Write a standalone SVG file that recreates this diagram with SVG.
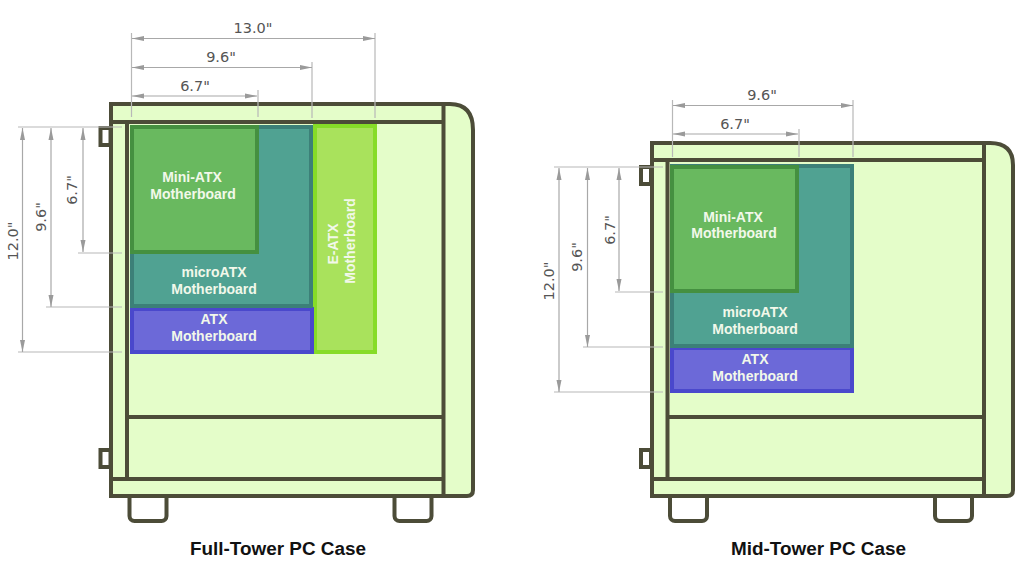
<svg xmlns="http://www.w3.org/2000/svg" width="1024" height="580" viewBox="0 0 1024 580">
<defs>
<style>
.case{fill:#e4fdc9;stroke:#4c4c38;stroke-width:4}
.ln{fill:none;stroke:#4c4c38;stroke-width:4}
.foot{fill:#fff;stroke:#4c4c38;stroke-width:4}
.ext{fill:none;stroke:#b8b8b8;stroke-width:1.200}
.dim{fill:none;stroke:#a8a8a8;stroke-width:1.200;marker-start:url(#ah);marker-end:url(#ah)}
.dt{font-family:"DejaVu Sans",sans-serif;font-size:14.500px;fill:#555;text-anchor:middle}
.bl{font-family:"Liberation Sans",sans-serif;font-size:14px;font-weight:bold;fill:#f2f8ea;text-anchor:middle}
.cap{font-family:"Liberation Sans",sans-serif;font-size:18.900px;font-weight:bold;fill:#111;text-anchor:middle}
.mini{fill:#69b95f;stroke:#459040;stroke-width:4}
.micro{fill:#50a292;stroke:#3c8078;stroke-width:4}
.atx{fill:#6c69d8;stroke:#4a48cc;stroke-width:4}
.eatx{fill:#a9e25c;stroke:#86dc28;stroke-width:4}
</style>
<marker id="ah" viewBox="0 0 12 6" refX="12" refY="3" markerUnits="userSpaceOnUse" markerWidth="12" markerHeight="6" orient="auto-start-reverse"><path d="M0 0.500L12 3L0 5.500Z" fill="#9a9a9a"/></marker>
</defs>
<g id="full-tower-case">
<rect class="foot" x="129.500" y="490" width="37" height="31" rx="5"/>
<rect class="foot" x="394.500" y="490" width="37" height="31" rx="5"/>
<rect class="foot" x="100.500" y="128" width="10" height="17"/>
<rect class="foot" x="100.500" y="450" width="10" height="17"/>
<path class="case" d="M111 104H450Q473 104 473 130V490Q473 496 467 496H111Z"/>
<path class="ln" d="M443.500 104V496M111 122H443.500M127 122V479M127 417H443.500M111 479H443.500"/>
</g>
<g id="full-boards">
<g id="full-eatx"><rect class="eatx" x="315" y="126" width="60" height="226"/><text class="bl" transform="translate(338 244) rotate(-90)">E-ATX</text><text class="bl" transform="translate(355 241) rotate(-90)">Motherboard</text></g>
<g id="full-atx"><rect class="atx" x="132" y="309" width="180" height="43"/><text class="bl" x="214" y="324">ATX</text><text class="bl" x="214" y="341">Motherboard</text></g>
<g id="full-micro"><path class="micro" d="M132 127H311V306H132Z"/><text class="bl" x="214" y="277">microATX</text><text class="bl" x="214" y="294">Motherboard</text></g>
<g id="full-mini"><rect class="mini" x="132" y="127" width="125" height="125"/><text class="bl" x="192" y="182">Mini-ATX</text><text class="bl" x="193" y="199">Motherboard</text></g>
</g>
<g id="mid-tower-case">
<rect class="foot" x="670" y="490" width="37" height="31" rx="5"/>
<rect class="foot" x="935" y="490" width="37" height="31" rx="5"/>
<rect class="foot" x="641" y="167" width="10" height="17"/>
<rect class="foot" x="641" y="450" width="10" height="17"/>
<path class="case" d="M652 143H990Q1013 143 1013 165V490Q1013 496 1007 496H652Z"/>
<path class="ln" d="M984 143V496M652 160H984M667.500 160V479M667.500 417H984M652 479H984"/>
</g>
<g id="mid-boards">
<g id="mid-atx"><rect class="atx" x="672" y="348" width="180" height="43"/><text class="bl" x="755" y="364">ATX</text><text class="bl" x="755" y="381">Motherboard</text></g>
<g id="mid-micro"><rect class="micro" x="672" y="166" width="180" height="180"/><text class="bl" x="755" y="317">microATX</text><text class="bl" x="755" y="334">Motherboard</text></g>
<g id="mid-mini"><rect class="mini" x="672" y="167" width="125" height="124"/><text class="bl" x="733" y="222">Mini-ATX</text><text class="bl" x="734" y="238">Motherboard</text></g>
</g>
<g id="connectors">
<path class="ext" d="M131.500 33V117M258 90V117M312 62V118M375 33V118M18 127H122M78 253H122M46 307H122M18 352H122"/>
<path class="dim" d="M132 38.500H375"/>
<path class="dim" d="M132 67.500H312"/>
<path class="dim" d="M132 96H257"/>
<path class="dim" d="M22.500 128V352"/>
<path class="dim" d="M51 128V307"/>
<path class="dim" d="M83 128V252"/>
<path class="ext" d="M672.500 100V157M799 129V157M853 100V157M554 167H663M615 292H663M583 347H663M554 392H663"/>
<path class="dim" d="M673 105.500H853"/>
<path class="dim" d="M673 134H798"/>
<path class="dim" d="M559 168V392"/>
<path class="dim" d="M587.500 168V347"/>
<path class="dim" d="M619 168V291"/>
</g>
<g id="labels">
<text class="dt" x="253" y="33">13.0"</text>
<text class="dt" x="221" y="62">9.6"</text>
<text class="dt" x="195" y="91">6.7"</text>
<text class="dt" transform="translate(18 241) rotate(-90)">12.0"</text>
<text class="dt" transform="translate(46 217) rotate(-90)">9.6"</text>
<text class="dt" transform="translate(77 190) rotate(-90)">6.7"</text>
<text class="dt" x="762" y="100">9.6"</text>
<text class="dt" x="735" y="129">6.7"</text>
<text class="dt" transform="translate(554 281) rotate(-90)">12.0"</text>
<text class="dt" transform="translate(582 257) rotate(-90)">9.6"</text>
<text class="dt" transform="translate(615 230) rotate(-90)">6.7"</text>
<text class="cap" x="278" y="555">Full-Tower PC Case</text>
<text class="cap" x="818.500" y="555">Mid-Tower PC Case</text>
</g>
</svg>
